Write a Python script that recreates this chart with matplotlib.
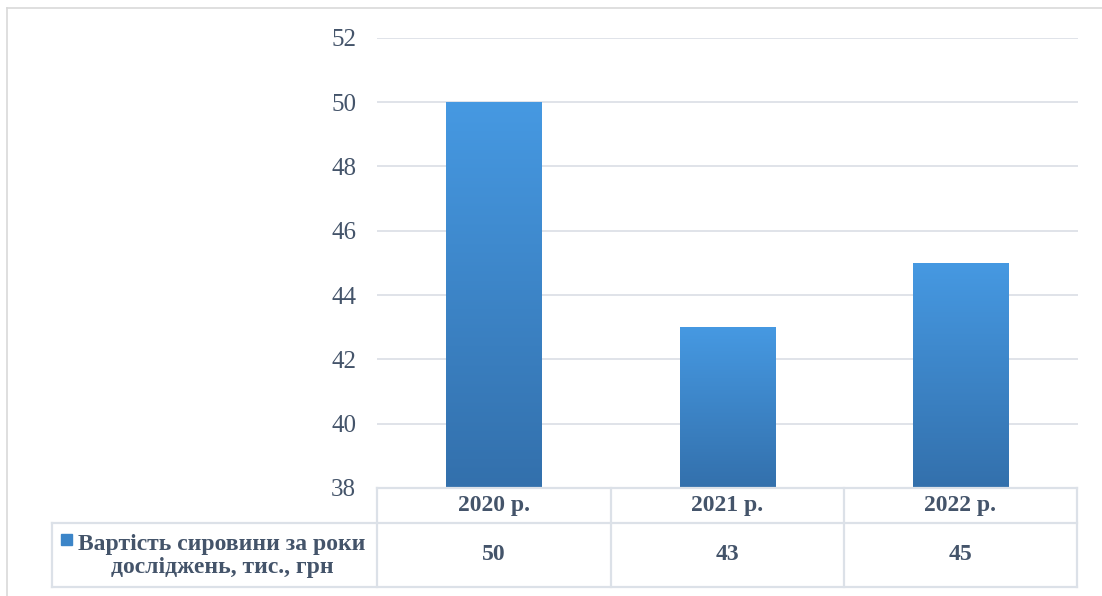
import numpy as np
import matplotlib.pyplot as plt
from matplotlib.colors import LinearSegmentedColormap
from matplotlib.lines import Line2D
from matplotlib.patches import Rectangle

# ── Data ────────────────────────────────────────────────────────────────
years = ['2020 р.', '2021 р.', '2022 р.']
costs = [50, 43, 45]
series_name = 'Вартість сировини за роки\nдосліджень, тис., грн'
y_ticks = [38, 40, 42, 44, 46, 48, 50, 52]

plt.rcParams['font.family'] = ['Liberation Serif', 'DejaVu Serif']

# ── Figure setup (pixel helpers) ────────────────────────────────────────
W, H = 1102, 596
fig = plt.figure(figsize=(W / 100, H / 100), dpi=100)

def fx(px):
    return px / W

def fy(py):
    return 1 - py / H

text_col = '#44546A'
line_col = '#DCE1E8'

# outer chart frame (only top and left edges fall inside the image)
fig.add_artist(Line2D([fx(7), fx(1102)], [fy(8), fy(8)], color='#D9D9D9', lw=1.2))
fig.add_artist(Line2D([fx(7), fx(7)], [fy(8), fy(596)], color='#D9D9D9', lw=1.2))

ax = fig.add_axes([fx(377), fy(488), fx(1078) - fx(377), fy(37.7) - fy(488)])

# ── Bars with vertical gradient ─────────────────────────────────────────
grad = LinearSegmentedColormap.from_list('bar', ['#3370AC', '#4699E2'])
x = np.arange(len(years))
bw = 0.41
bars = ax.bar(x, costs, width=bw, color='#3C85C8', zorder=2)
for rect, v in zip(bars, costs):
    x0 = rect.get_x()
    img = ax.imshow(np.linspace(0, 1, 256).reshape(-1, 1),
                    extent=[x0, x0 + bw, y_ticks[0], v], origin='lower',
                    cmap=grad, aspect='auto', zorder=3)
    img.set_clip_path(rect)

ax.set_xlim(-0.5, len(years) - 0.5)
ax.set_ylim(y_ticks[0], y_ticks[-1])
ax.set_yticks(y_ticks)
ax.set_xticks([])
ax.grid(axis='y', color='#DDE1E7', lw=1.3, zorder=0)
ax.tick_params(axis='y', length=0, pad=15, labelsize=18, labelcolor=text_col)
for s in ax.spines.values():
    s.set_visible(False)

# ── Data table below the plot ───────────────────────────────────────────
def hline(y, x0, x1):
    fig.add_artist(Line2D([fx(x0), fx(x1)], [fy(y), fy(y)], color=line_col, lw=1.6))

def vline(x0, y0, y1):
    fig.add_artist(Line2D([fx(x0), fx(x0)], [fy(y0), fy(y1)], color=line_col, lw=1.6))

col_edges = [377, 610.5, 844, 1077]
hline(488, 377, 1077)
hline(522.5, 52, 1077)
hline(587, 52, 1077)
vline(52, 522.5, 587)
for ce in col_edges:
    vline(ce, 488, 587)

for i, (yr, v) in enumerate(zip(years, costs)):
    cx = (col_edges[i] + col_edges[i + 1]) / 2
    fig.text(fx(cx), fy(506), yr, ha='center', va='center', fontsize=17,
             fontweight='bold', color=text_col)
    fig.text(fx(cx), fy(554), f'{v}', ha='center', va='center', fontsize=17,
             fontweight='bold', color=text_col)

# legend key in the table
fig.add_artist(Rectangle((fx(61), fy(545)), fx(72) - fx(61), fy(534) - fy(545),
                         transform=fig.transFigure, color='#3C85C8'))
fig.text(fx(222), fy(556), series_name, ha='center', va='center', fontsize=17,
         fontweight='bold', color=text_col, linespacing=1.15,
         multialignment='center')

fig.savefig('out.png', dpi=100)
